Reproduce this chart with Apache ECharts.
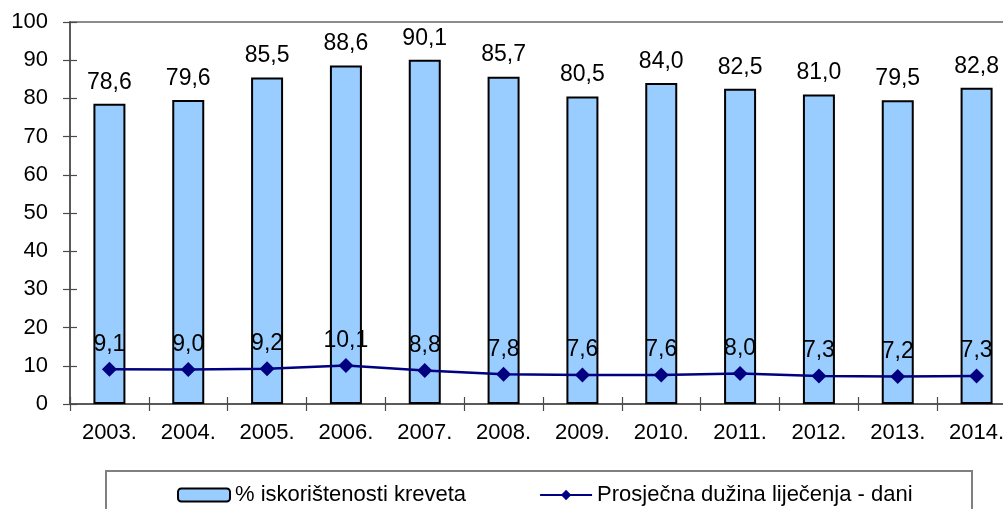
<!DOCTYPE html>
<html>
<head>
<meta charset="utf-8">
<script src="https://cdn.jsdelivr.net/npm/echarts@6/dist/echarts.min.js"></script>
<style>
  html, body { margin: 0; padding: 0; background: #fff; overflow: hidden; }
  #wrap { width: 1003px; height: 509px; overflow: hidden; }
  /* the plot runs a little past the right edge, so the canvas is wider than the view */
  #chart { width: 1040px; height: 509px; }
</style>
</head>
<body>
<div id="wrap"><div id="chart"></div></div>
<script>
// Years shown on the category axis
const years = ['2003.', '2004.', '2005.', '2006.', '2007.', '2008.', '2009.', '2010.', '2011.', '2012.', '2013.', '2014.'];
// Bed occupancy, %
const bedOccupancy = [78.6, 79.6, 85.5, 88.6, 90.1, 85.7, 80.5, 84.0, 82.5, 81.0, 79.5, 82.8];
// Average length of treatment, days
const avgStay = [9.1, 9.0, 9.2, 10.1, 8.8, 7.8, 7.6, 7.6, 8.0, 7.3, 7.2, 7.3];
const seriesNames = ['% iskorištenosti kreveta', 'Prosječna dužina liječenja - dani'];

const FONT = '"Liberation Sans", Arial, sans-serif';
const fmt = v => v.toFixed(1).replace('.', ',');

const chart = echarts.init(document.getElementById('chart'), null, { renderer: 'canvas' });

const axisColor = '#4a4a4a';

chart.setOption({
  animation: false,
  backgroundColor: '#ffffff',
  textStyle: { fontFamily: FONT, color: '#000' },
  grid: {
    left: 70, top: 22, width: 946, height: 382,
    show: true, borderColor: '#8c8c8c', borderWidth: 2, backgroundColor: 'transparent'
  },
  legend: {
    left: 172, top: 479,
    itemWidth: 52, itemHeight: 13, itemGap: 73,
    textStyle: { fontFamily: FONT, fontSize: 22, color: '#000' },
    data: seriesNames
  },
  graphic: [{
    type: 'rect',
    shape: { x: 106, y: 471, width: 866, height: 60 },
    style: { fill: 'none', stroke: '#808080', lineWidth: 2 },
    z: 0
  }],
  xAxis: [{
    type: 'category',
    data: years,
    axisLine: { lineStyle: { color: axisColor, width: 1.5 } },
    axisTick: { show: true, length: 7, lineStyle: { color: axisColor, width: 1.2 } },
    axisLabel: { fontFamily: FONT, fontSize: 22, color: '#000', margin: 18 }
  }, {
    // inner half of the crossing ticks
    type: 'category',
    data: years,
    position: 'bottom',
    axisLine: { show: false },
    axisTick: { show: true, inside: true, length: 7, lineStyle: { color: axisColor, width: 1.2 } },
    axisLabel: { show: false }
  }],
  yAxis: [{
    type: 'value',
    min: 0, max: 100, interval: 10,
    axisLine: { show: true, lineStyle: { color: axisColor, width: 1.5 } },
    axisTick: { show: true, length: 7, lineStyle: { color: axisColor, width: 1.2 } },
    axisLabel: { fontFamily: FONT, fontSize: 22, color: '#000', margin: 22 },
    splitLine: { show: false }
  }, {
    type: 'value',
    min: 0, max: 100, interval: 10,
    position: 'left',
    axisLine: { show: false },
    axisTick: { show: true, inside: true, length: 7, lineStyle: { color: axisColor, width: 1.2 } },
    axisLabel: { show: false },
    splitLine: { show: false }
  }],
  series: [{
    name: seriesNames[0],
    type: 'bar',
    data: bedOccupancy,
    barWidth: 32,
    itemStyle: { color: '#99CCFF', borderColor: '#000', borderWidth: 2 },
    label: {
      show: true, position: 'top', distance: 10,
      fontFamily: FONT, fontSize: 23, color: '#000',
      formatter: p => fmt(p.value)
    },
    z: 2
  }, {
    name: seriesNames[1],
    type: 'line',
    data: avgStay,
    symbol: 'diamond',
    symbolSize: 15,
    lineStyle: { color: '#000080', width: 2.5 },
    itemStyle: { color: '#000080' },
    label: {
      show: true, position: 'top', distance: 6,
      fontFamily: FONT, fontSize: 23, color: '#000',
      formatter: p => fmt(p.value)
    },
    z: 3
  }]
});
</script>
</body>
</html>
